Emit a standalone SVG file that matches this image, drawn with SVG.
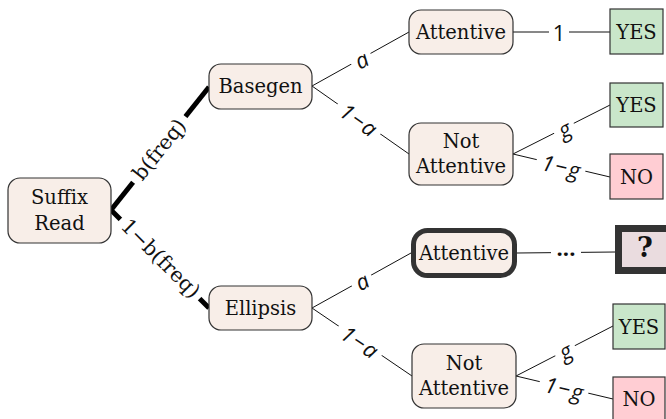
<svg xmlns="http://www.w3.org/2000/svg" width="666" height="419" viewBox="0 0 666 419">
<style>
.node{fill:#f8eee8;stroke:#333;stroke-width:1.2}
.yes{fill:#c9e6ca;stroke:#333;stroke-width:1.2}
.no{fill:#ffcdd3;stroke:#333;stroke-width:1.2}
.q{fill:#eadcdf;stroke:#333;stroke-width:7}
.bold{fill:#f8eee8;stroke:#333;stroke-width:5}
.t{font-family:"DejaVu Serif","Liberation Serif",serif;font-size:19.5px;fill:#111;text-anchor:middle}
.e{stroke:#111;stroke-width:1;fill:none}
.th{stroke:#000;stroke-width:5;fill:none}
.lb{fill:#fff}
.l{font-family:"Open Sans","DejaVu Sans",sans-serif;font-style:italic;font-size:22px;fill:#111;text-anchor:middle;dominant-baseline:central}
.sp{letter-spacing:1.5px}
.ls{font-family:"DejaVu Serif","Liberation Serif",serif;font-size:20.5px;fill:#111;text-anchor:middle;dominant-baseline:central}
</style>
<g id="connectors">
<line class="th" x1="111" y1="210" x2="209" y2="87"/>
<line class="th" x1="111" y1="210" x2="209" y2="308"/>
<line class="e" x1="312" y1="86" x2="409" y2="32"/>
<line class="e" x1="312" y1="86" x2="409" y2="154"/>
<line class="e" x1="513" y1="32" x2="610" y2="32"/>
<line class="e" x1="513" y1="154" x2="610" y2="105"/>
<line class="e" x1="513" y1="154" x2="610" y2="177"/>
<line class="e" x1="312" y1="308" x2="411" y2="253"/>
<line class="e" x1="312" y1="308" x2="412" y2="376"/>
<line class="e" x1="517" y1="253" x2="615" y2="252"/>
<line class="e" x1="516" y1="376" x2="613" y2="326"/>
<line class="e" x1="516" y1="376" x2="613" y2="399"/>
<g transform="translate(160,150) rotate(-51.5)"><rect class="lb" x="-42" y="-8" width="84" height="16"/><text class="ls" x="0" y="-1">b(freq)</text></g>
<g transform="translate(160,259) rotate(45)"><rect class="lb" x="-56" y="-8" width="112" height="16"/><text class="ls" x="0" y="-1">1−b(freq)</text></g>
<g transform="translate(361,59) rotate(-29.1)"><rect class="lb" x="-11" y="-7" width="22" height="14"/><text class="l" x="0" y="0">a</text></g>
<g transform="translate(359,119) rotate(35)"><rect class="lb" x="-26" y="-7" width="52" height="14"/><text class="l sp" x="1" y="0">1−a</text></g>
<g transform="translate(559,32)"><rect class="lb" x="-10" y="-7" width="20" height="14"/><text class="l" x="0" y="0" style="font-style:normal">1</text></g>
<g transform="translate(564,128.5) rotate(-26.8)"><rect class="lb" x="-11" y="-7" width="22" height="14"/><text class="l" x="0" y="0">g</text></g>
<g transform="translate(561,165.5) rotate(13.3)"><rect class="lb" x="-25" y="-7" width="50" height="14"/><text class="l sp" x="1" y="0">1−g</text></g>
<g transform="translate(361.5,280.5) rotate(-29)"><rect class="lb" x="-11" y="-7" width="22" height="14"/><text class="l" x="0" y="0">a</text></g>
<g transform="translate(360,341) rotate(34.2)"><rect class="lb" x="-26" y="-7" width="52" height="14"/><text class="l sp" x="1" y="0">1−a</text></g>
<g transform="translate(566,252.5)"><rect class="lb" x="-15" y="-7" width="30" height="14"/><text class="l" x="0" y="0" style="font-style:normal;font-weight:bold">···</text></g>
<g transform="translate(565,350.5) rotate(-27.3)"><rect class="lb" x="-11" y="-7" width="22" height="14"/><text class="l" x="0" y="0">g</text></g>
<g transform="translate(564,387.5) rotate(13.3)"><rect class="lb" x="-25" y="-7" width="50" height="14"/><text class="l sp" x="1" y="0">1−g</text></g>
</g>
<g id="suffix"><rect class="node" x="8" y="178" width="103" height="65" rx="12"/><text class="t" x="59.5" y="204">Suffix</text><text class="t" x="59.5" y="230">Read</text></g>
<g id="basegen"><rect class="node" x="209" y="64" width="103" height="45" rx="12"/><text class="t" x="260.5" y="93">Basegen</text></g>
<g id="ellipsis"><rect class="node" x="209" y="286" width="103" height="44" rx="12"/><text class="t" x="260.5" y="315">Ellipsis</text></g>
<g id="att1"><rect class="node" x="409" y="10" width="104" height="44" rx="12"/><text class="t" x="461" y="39">Attentive</text></g>
<g id="notatt1"><rect class="node" x="409" y="123" width="104" height="62" rx="12"/><text class="t" x="461" y="148">Not</text><text class="t" x="461" y="173">Attentive</text></g>
<g id="yes1"><rect class="yes" x="610" y="9" width="53" height="45"/><text class="t" x="636.5" y="39">YES</text></g>
<g id="yes2"><rect class="yes" x="610" y="83" width="53" height="44"/><text class="t" x="636.5" y="112">YES</text></g>
<g id="no1"><rect class="no" x="610" y="154" width="53" height="45"/><text class="t" x="636.5" y="184">NO</text></g>
<g id="att2"><rect class="bold" x="413.5" y="230.5" width="101" height="45" rx="14"/><text class="t" x="464" y="260">Attentive</text></g>
<g id="unknown"><rect class="q" x="618.5" y="228.5" width="60" height="42"/><text class="t" x="645" y="257" style="font-weight:bold;font-size:27px">?</text></g>
<g id="notatt2"><rect class="node" x="412" y="344" width="104" height="64" rx="12"/><text class="t" x="464" y="370">Not</text><text class="t" x="464" y="395">Attentive</text></g>
<g id="yes3"><rect class="yes" x="613" y="304" width="52" height="45"/><text class="t" x="639" y="334">YES</text></g>
<g id="no2"><rect class="no" x="613" y="377" width="52" height="45"/><text class="t" x="639" y="406">NO</text></g>
</svg>
